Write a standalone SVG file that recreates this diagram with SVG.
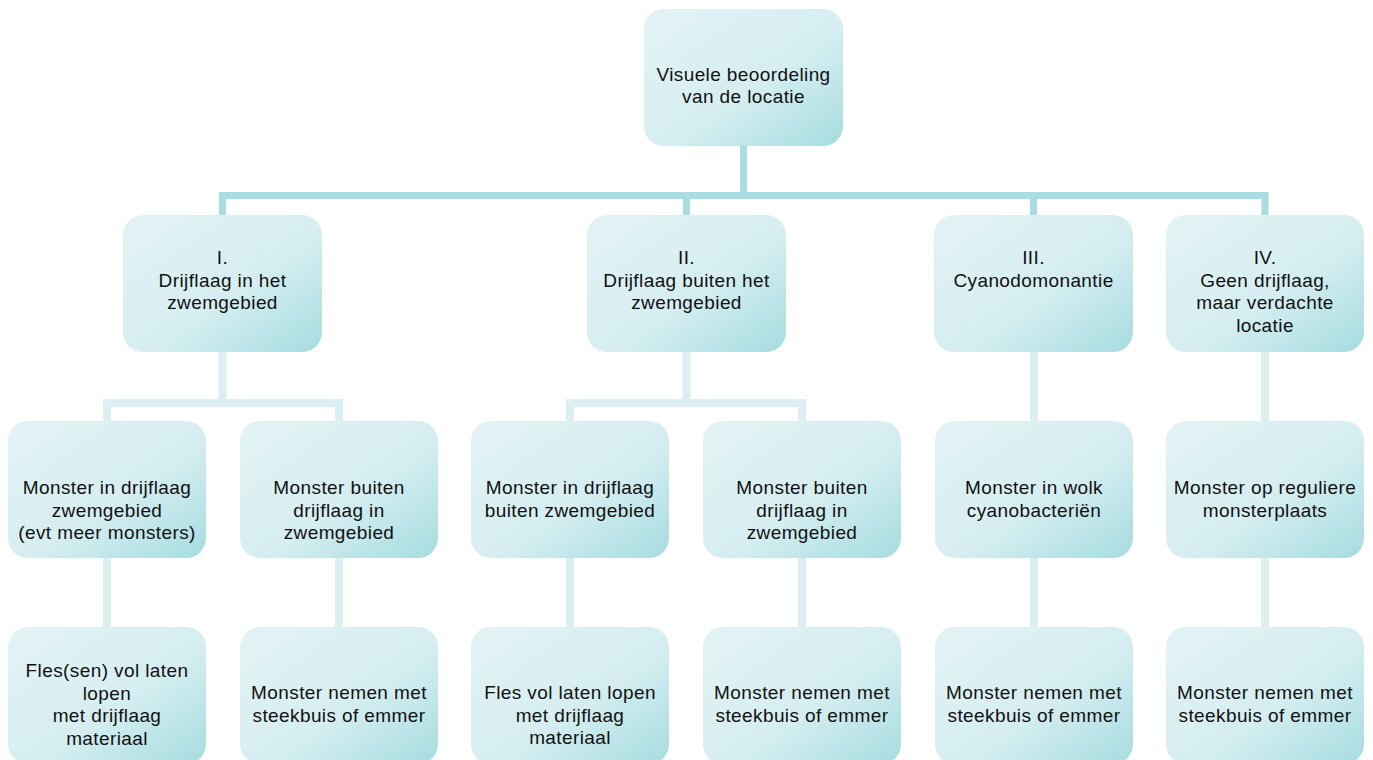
<svg xmlns="http://www.w3.org/2000/svg" width="1373" height="760" viewBox="0 0 1373 760">
<defs>
<linearGradient id="g" x1="0" y1="0" x2="1" y2="1">
<stop offset="0" stop-color="#e3f3f5"/>
<stop offset="0.55" stop-color="#d6eef1"/>
<stop offset="1" stop-color="#a6dce0"/>
</linearGradient>
<style>
.box{fill:url(#g);}
.t{font-family:"Liberation Sans",Arial,sans-serif;font-size:19px;letter-spacing:0.4px;fill:#111;text-anchor:middle;}
.c1{stroke:#a9dde1;stroke-width:7;fill:none;}
.c2{stroke:#dcf0f2;stroke-width:8;fill:none;}
</style>
</defs>
<rect width="1373" height="760" fill="#fff"/>
<g id="connectors">
<path class="c1" d="M743.5 146V195.5M222.5 195.5H1265M222.5 192V215M686.5 192V215M1033.5 192V215M1265 192V215"/>
<path class="c2" d="M222.5 352V403M107 403H339M107 399V421M339 399V421"/>
<path class="c2" d="M686.5 352V403M570 403H802M570 399V421M802 399V421"/>
<path class="c2" d="M1034 352V421M1265 352V421"/>
<path class="c2" d="M107 558V627M339 558V627M570 558V627M802 558V627M1034 558V627M1265 558V627"/>
</g>
<g id="root"><rect class="box" x="644" y="9" width="199" height="137" rx="20"/>
<text class="t" x="743.5" y="81">Visuele beoordeling</text><text class="t" x="743.5" y="103">van de locatie</text></g>
<g id="n1"><rect class="box" x="123" y="215" width="199" height="137" rx="20"/>
<text class="t" x="222.5" y="264">I.</text><text class="t" x="222.5" y="286.5">Drijflaag in het</text><text class="t" x="222.5" y="309">zwemgebied</text></g>
<g id="n2"><rect class="box" x="587" y="215" width="199" height="137" rx="20"/>
<text class="t" x="686.5" y="264">II.</text><text class="t" x="686.5" y="286.5">Drijflaag buiten het</text><text class="t" x="686.5" y="309">zwemgebied</text></g>
<g id="n3"><rect class="box" x="934" y="215" width="199" height="137" rx="20"/>
<text class="t" x="1033.5" y="264">III.</text><text class="t" x="1033.5" y="286.5">Cyanodomonantie</text></g>
<g id="n4"><rect class="box" x="1166" y="215" width="198" height="137" rx="20"/>
<text class="t" x="1265" y="264">IV.</text><text class="t" x="1265" y="286.5">Geen drijflaag,</text><text class="t" x="1265" y="309">maar verdachte</text><text class="t" x="1265" y="331.5">locatie</text></g>
<g id="n1a"><rect class="box" x="8" y="421" width="198" height="137" rx="20"/>
<text class="t" x="107" y="494">Monster in drijflaag</text><text class="t" x="107" y="516.5">zwemgebied</text><text class="t" x="107" y="539">(evt meer monsters)</text></g>
<g id="n1b"><rect class="box" x="240" y="421" width="198" height="137" rx="20"/>
<text class="t" x="339" y="494">Monster buiten</text><text class="t" x="339" y="516.5">drijflaag in</text><text class="t" x="339" y="539">zwemgebied</text></g>
<g id="n2a"><rect class="box" x="471" y="421" width="198" height="137" rx="20"/>
<text class="t" x="570" y="494">Monster in drijflaag</text><text class="t" x="570" y="516.5">buiten zwemgebied</text></g>
<g id="n2b"><rect class="box" x="703" y="421" width="198" height="137" rx="20"/>
<text class="t" x="802" y="494">Monster buiten</text><text class="t" x="802" y="516.5">drijflaag in</text><text class="t" x="802" y="539">zwemgebied</text></g>
<g id="n3a"><rect class="box" x="935" y="421" width="198" height="137" rx="20"/>
<text class="t" x="1034" y="494">Monster in wolk</text><text class="t" x="1034" y="516.5">cyanobacteriën</text></g>
<g id="n4a"><rect class="box" x="1166" y="421" width="198" height="137" rx="20"/>
<text class="t" x="1265" y="494">Monster op reguliere</text><text class="t" x="1265" y="516.5">monsterplaats</text></g>
<g id="n1a1"><rect class="box" x="8" y="627" width="198" height="137" rx="20"/>
<text class="t" x="107" y="677">Fles(sen) vol laten</text><text class="t" x="107" y="699.5">lopen</text><text class="t" x="107" y="722">met drijflaag</text><text class="t" x="107" y="744.5">materiaal</text></g>
<g id="n1b1"><rect class="box" x="240" y="627" width="198" height="137" rx="20"/>
<text class="t" x="339" y="699">Monster nemen met</text><text class="t" x="339" y="721.5">steekbuis of emmer</text></g>
<g id="n2a1"><rect class="box" x="471" y="627" width="198" height="137" rx="20"/>
<text class="t" x="570" y="699">Fles vol laten lopen</text><text class="t" x="570" y="721.5">met drijflaag</text><text class="t" x="570" y="744">materiaal</text></g>
<g id="n2b1"><rect class="box" x="703" y="627" width="198" height="137" rx="20"/>
<text class="t" x="802" y="699">Monster nemen met</text><text class="t" x="802" y="721.5">steekbuis of emmer</text></g>
<g id="n3a1"><rect class="box" x="935" y="627" width="198" height="137" rx="20"/>
<text class="t" x="1034" y="699">Monster nemen met</text><text class="t" x="1034" y="721.5">steekbuis of emmer</text></g>
<g id="n4a1"><rect class="box" x="1166" y="627" width="198" height="137" rx="20"/>
<text class="t" x="1265" y="699">Monster nemen met</text><text class="t" x="1265" y="721.5">steekbuis of emmer</text></g>
</svg>
